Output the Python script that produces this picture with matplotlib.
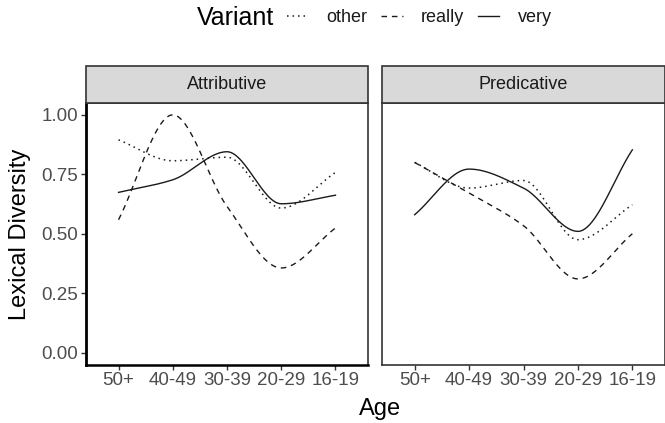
import matplotlib

matplotlib.use("Agg")
import matplotlib.pyplot as plt
import numpy as np
from matplotlib.lines import Line2D
from matplotlib.patches import Rectangle

ages = ["50+", "40-49", "30-39", "20-29", "16-19"]
variants = ["other", "really", "very"]
facets = ["Attributive", "Predicative"]

# lexical diversity per age group
attributive_other = [0.895, 0.807, 0.822, 0.608, 0.758]
attributive_really = [0.559, 1.000, 0.615, 0.356, 0.524]
attributive_very = [0.674, 0.727, 0.845, 0.626, 0.662]

predicative_other = [0.800, 0.692, 0.724, 0.475, 0.622]
predicative_really = [0.800, 0.671, 0.534, 0.310, 0.500]
predicative_very = [0.580, 0.772, 0.692, 0.510, 0.853]

y_ticks = [0.00, 0.25, 0.50, 0.75, 1.00]

W, H = 665, 423
FONT = ["Liberation Sans", "DejaVu Sans"]
STYLES = {
    "other": dict(linestyle=(0, (1, 2.6)), linewidth=1.1),
    "really": dict(linestyle=(0, (4, 3.5)), linewidth=1.0),
    "very": dict(linestyle="-", linewidth=1.0),
}


def pchip(x, y, n=200):
    # shape-preserving cubic through the group means
    x = np.asarray(x, float)
    y = np.asarray(y, float)
    h = np.diff(x)
    d = np.diff(y) / h
    m = np.zeros_like(y)
    for i in range(1, len(y) - 1):
        if d[i - 1] * d[i] > 0:
            w1 = 2 * h[i] + h[i - 1]
            w2 = h[i] + 2 * h[i - 1]
            m[i] = (w1 + w2) / (w1 / d[i - 1] + w2 / d[i])
    m[0] = d[0]
    m[-1] = d[-1]
    xs = np.linspace(x[0], x[-1], n)
    idx = np.clip(np.searchsorted(x, xs) - 1, 0, len(x) - 2)
    t = (xs - x[idx]) / h[idx]
    h00 = 2 * t**3 - 3 * t**2 + 1
    h10 = t**3 - 2 * t**2 + t
    h01 = -2 * t**3 + 3 * t**2
    h11 = t**3 - t**2
    ys = h00 * y[idx] + h10 * h[idx] * m[idx] + h01 * y[idx + 1] + h11 * h[idx] * m[idx + 1]
    return xs, ys


def px_box(left, top, right, bottom):
    return [left / W, 1 - bottom / H, (right - left) / W, (bottom - top) / H]


def add_strip(fig, left, right, label):
    sax = fig.add_axes(px_box(left, 66, right, 103))
    sax.set_axis_off()
    sax.add_patch(Rectangle((0, 0), 1, 1, transform=sax.transAxes, facecolor="#D9D9D9",
                            edgecolor="#333333", linewidth=1.2, clip_on=False))
    sax.text(0.5, 0.5, label, ha="center", va="center", fontsize=13, color="#1A1A1A", family=FONT)


def draw_panel(ax, series, show_y):
    x = np.arange(1, len(ages) + 1)
    for name in variants:
        xs, ys = pchip(x, series[name])
        ax.plot(xs, ys, color="#1A1A1A", **STYLES[name])
    ax.set_xlim(0.4, len(ages) + 0.6)
    ax.set_ylim(-0.05, 1.05)
    ax.set_xticks(x)
    ax.set_xticklabels(ages)
    ax.set_yticks(y_ticks)
    ax.set_yticklabels([f"{v:.2f}" for v in y_ticks])
    ax.tick_params(axis="both", length=3.5, width=1, color="#333333", labelcolor="#4D4D4D",
                   labelsize=13.5, pad=2)
    for lab in ax.get_xticklabels() + ax.get_yticklabels():
        lab.set_family(FONT)
    if not show_y:
        ax.tick_params(axis="y", left=False, labelleft=False)
    for spine in ax.spines.values():
        spine.set_color("#333333")
        spine.set_linewidth(1.2)


def main():
    fig = plt.figure(figsize=(W / 100, H / 100), dpi=100)

    data = {
        "Attributive": {"other": attributive_other, "really": attributive_really, "very": attributive_very},
        "Predicative": {"other": predicative_other, "really": predicative_really, "very": predicative_very},
    }
    bounds = {"Attributive": (86, 368), "Predicative": (382, 665)}

    for i, facet in enumerate(facets):
        left, right = bounds[facet]
        ax = fig.add_axes(px_box(left, 103, right, 364.5))
        draw_panel(ax, data[facet], show_y=(i == 0))
        if i == 0:
            ax.spines["left"].set_color("black")
            ax.spines["left"].set_linewidth(2)
            ax.spines["bottom"].set_color("black")
            ax.spines["bottom"].set_linewidth(1.8)
        add_strip(fig, left, right, facet)

    fig.text(20 / W, 1 - 234 / H, "Lexical Diversity", rotation=90, ha="center", va="center",
             fontsize=17, family=FONT)
    fig.text(380 / W, 1 - 409 / H, "Age", ha="center", va="center", fontsize=17, family=FONT)

    fig.text(197 / W, 1 - 18 / H, "Variant", ha="left", va="center", fontsize=18, family=FONT)
    handles = [Line2D([], [], color="#1A1A1A", **STYLES[name]) for name in variants]
    leg = fig.legend(handles, variants, loc="center left", bbox_to_anchor=(287 / W, 1 - 18 / H),
                     ncol=3, frameon=False, handlelength=1.2, handletextpad=1.0,
                     columnspacing=0.75, borderpad=0, borderaxespad=0,
                     prop={"family": FONT, "size": 13})
    for txt in leg.get_texts():
        txt.set_color("#1A1A1A")

    fig.savefig("out.png", dpi=100)


if __name__ == "__main__":
    main()
